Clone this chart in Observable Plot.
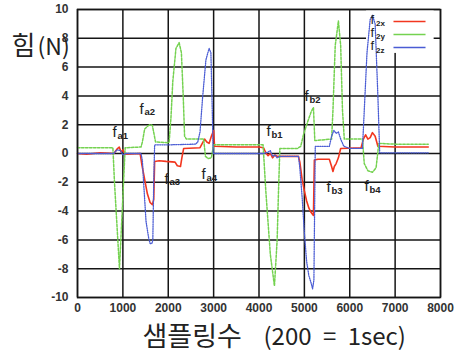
<!DOCTYPE html>
<html><head><meta charset="utf-8">
<script src="https://cdn.jsdelivr.net/npm/d3@7"></script>
<script src="https://cdn.jsdelivr.net/npm/@observablehq/plot@0.6"></script>
<style>body{margin:0;background:#fff} svg{display:block}</style>
</head><body><div id="chart"></div>
<script>
// tick values
const xTicks = [0,1000,2000,3000,4000,5000,6000,7000,8000];
const yTicks = [-10,-8,-6,-4,-2,0,2,4,6,8,10];

// series f2x (red)
const f2xSample = [0,200,500,800,870,920,960,1000,1050,1380,1420,1480,1540,1600,1650,1680,1700,1800,1950,2150,2200,2270,2300,2340,2700,2750,2800,2850,2900,2950,3000,3020,3500,4000,4100,4150,4200,4250,4300,4350,4400,4870,4900,4950,5000,5050,5100,5150,5200,5220,5300,5550,5600,5630,5660,5700,5750,5800,6250,6300,6350,6400,6450,6500,6560,6620,7000,7730];
const f2xValue  = [0,-0.05,0.05,0,0.3,0.45,0.1,0.25,-0.05,0,-0.8,-1.8,-2.8,-3.4,-3.55,-3.2,-0.55,-0.5,-0.55,-0.6,-0.85,-0.9,-0.3,0.35,0.4,0.7,1.0,0.8,0.7,1.2,1.6,0.5,0.45,0.45,0.4,0.05,-0.15,0,-0.3,-0.1,-0.2,-0.2,-0.6,-1.8,-2.6,-3.3,-3.8,-4.1,-4.3,-0.45,-0.4,-0.4,-0.9,-1.25,-0.9,-0.7,-0.3,0.35,0.4,1.0,1.3,1.0,1.1,1.45,1.2,0.5,0.45,0.45];

// series f2y (green)
const f2ySample = [0,700,780,815,870,925,970,1015,1050,1400,1430,1480,1545,1600,1650,1690,1720,2000,2020,2060,2100,2170,2240,2290,2330,2360,2400,2780,2820,2880,2950,3000,3500,4090,4150,4250,4340,4400,4430,4460,4850,4920,4980,5050,5150,5200,5230,5600,5630,5680,5750,5800,5840,5880,6280,6320,6400,6500,6580,6640,7000,7730];
const f2yValue  = [0.4,0.4,0.4,-2,-5,-8,-5,-2,0.4,0.45,0.8,1.7,1.9,2.0,1.95,1.3,0.8,0.75,0.8,2.5,5,7.3,7.7,7,4,1.2,1.0,1.0,-0.2,-0.35,-0.3,0.6,0.6,0.6,-2.6,-7,-9.2,-6,-2.6,0.35,0.35,0.5,1.3,2.0,2.9,3.2,0.9,1.0,3,7.5,9.2,7.5,3,1.0,1.0,-0.7,-1.2,-1.3,-1.0,0.7,0.65,0.65];

// series f2z (blue)
const f2zSample = [0,800,870,950,1000,1050,1400,1430,1455,1510,1570,1600,1640,1660,1680,1700,2000,2600,2650,2700,2760,2830,2900,2940,2970,2990,3500,4100,4200,4250,4300,4350,4400,4450,4870,4900,4950,5000,5050,5100,5150,5180,5210,5240,5550,5600,5650,5700,5750,5800,5870,6000,6280,6320,6380,6450,6500,6560,6620,6660,7000,7730];
const f2zValue  = [0,0,0.25,0.2,-0.1,0,0,-0.5,-1.9,-4.7,-5.9,-6.25,-6.25,-6.0,-2,0.6,0.6,0.65,0.8,1.5,4,6.5,7.3,7.0,3,0,0,0,0.1,0.2,-0.2,-0.1,-0.3,-0.2,-0.2,-1,-3,-5.5,-7.5,-8.5,-9,-9.4,-8.8,0.5,0.5,1.2,1.6,1.4,1.5,1.0,0.5,0.35,0.35,3,7,9.3,9.6,9.0,4,0.05,0.05,0.05];

// annotation labels
const annoSub = ["a1","a2","a3","a4","b1","b2","b3","b4"];
const annoX   = [771,1366,1917,2733,4166,5003,5488,6326];
const annoY   = [1.46,3.06,-1.8,-1.46,1.53,3.96,-2.36,-2.29];

// legend
const legendSub = ["2x","2y","2z"];
const legendColor = ["#f2361f","#74d250","#4a5cd4"];

// axis titles
const yTitleHangul = "힘", yTitleRest = "(N)";
const xTitleHangul = "샘플링수", xTitleRest = "(200 = 1sec)";

const rows = (xs, vs) => xs.map((x, i) => ({x, y: vs[i]}));
const annos = annoSub.map((s, i) => ({sub: s, x: annoX[i], y: annoY[i]}));

// legend layout (in data units of the frame)
const legLineX1 = 6964, legLineX2 = 7670, legTextX = 6457;
const legLineY = [9.17, 8.26, 7.36];
const legTextY = [9.3, 8.4, 7.45];
const legBox = [{x1: 6370, x2: 7860, y1: 6.95, y2: 10}];
const dashes = ["none", "2.5,1.5", "1.1,1.2"];
const legRows = legendSub.map((s, i) => ({sub: s, color: legendColor[i], ly: legLineY[i], ty: legTextY[i], dash: dashes[i]}));

const textColor = "#222";
const kr = "'Noto Sans CJK KR', 'Noto Sans', sans-serif";

const plot = Plot.plot({
  width: 462, height: 354,
  marginLeft: 77, marginRight: 22, marginTop: 9, marginBottom: 57,
  x: {domain: [0, 8000], label: null},
  y: {domain: [-10, 10], label: null},
  style: {fontFamily: "'Liberation Sans', Arial, sans-serif", background: "#fff", overflow: "visible", wordSpacing: "6px"},
  marks: [
    Plot.ruleX(xTicks, {stroke: "#151515", strokeWidth: 1.5}),
    Plot.ruleY(yTicks, {stroke: "#151515", strokeWidth: 1.5}),
    Plot.rect(legBox, {x1: "x1", x2: "x2", y1: "y1", y2: "y2", fill: "white"}),
    Plot.line(rows(f2xSample, f2xValue), {x: "x", y: "y", stroke: legendColor[0], strokeWidth: 1.6}),
    Plot.line(rows(f2ySample, f2yValue), {x: "x", y: "y", stroke: legendColor[1], strokeWidth: 1.5, strokeDasharray: dashes[1]}),
    Plot.line(rows(f2zSample, f2zValue), {x: "x", y: "y", stroke: legendColor[2], strokeWidth: 1.3, strokeDasharray: dashes[2]}),
    // legend
    Plot.link(legRows, {x1: legLineX1, x2: legLineX2, y1: "ly", y2: "ly", stroke: "color", strokeWidth: 1.6, strokeDasharray: "dash"}),
    Plot.text(legRows, {x: legTextX, y: "ty", text: () => "f", fontSize: 13, textAnchor: "start", fill: textColor}),
    Plot.text(legRows, {x: legTextX, y: "ty", text: "sub", fontSize: 8, fontWeight: "bold", textAnchor: "start", dx: 5.5, dy: 4, fill: textColor}),
    // annotations
    Plot.text(annos, {x: "x", y: "y", text: () => "f", fontSize: 15, textAnchor: "start", fill: textColor}),
    Plot.text(annos, {x: "x", y: "y", text: "sub", fontSize: 9.5, fontWeight: "bold", textAnchor: "start", dx: 5, dy: 3, fill: textColor}),
    // axes
    Plot.axisX(xTicks, {tickSize: 0, tickPadding: 6, fontSize: 12, fontWeight: "bold", fill: "#333", tickFormat: d => String(d), label: null}),
    Plot.axisY(yTicks, {tickSize: 0, tickPadding: 9, fontSize: 12, fontWeight: "bold", fill: "#333", tickFormat: d => String(d), label: null}),
    Plot.frame({stroke: "#151515", strokeWidth: 1.5}),
    // axis titles
    Plot.text([yTitleHangul], {frameAnchor: "top-left", dx: -66, dy: 37, lineAnchor: "middle", textAnchor: "start", fontSize: 26, fontFamily: kr, fill: textColor}),
    Plot.text([yTitleRest], {frameAnchor: "top-left", dx: -40, dy: 38, lineAnchor: "middle", textAnchor: "start", fontSize: 23, fontFamily: kr, fill: textColor}),
    Plot.text([xTitleHangul], {frameAnchor: "bottom-left", dx: 65, dy: 40, lineAnchor: "middle", textAnchor: "start", fontSize: 27, fontFamily: kr, fill: textColor}),
    Plot.text([xTitleRest], {frameAnchor: "bottom-left", dx: 186, dy: 39.5, lineAnchor: "middle", textAnchor: "start", fontSize: 24, fontFamily: kr, fill: textColor})
  ]
});
document.getElementById("chart").appendChild(plot);
</script>
</body></html>
